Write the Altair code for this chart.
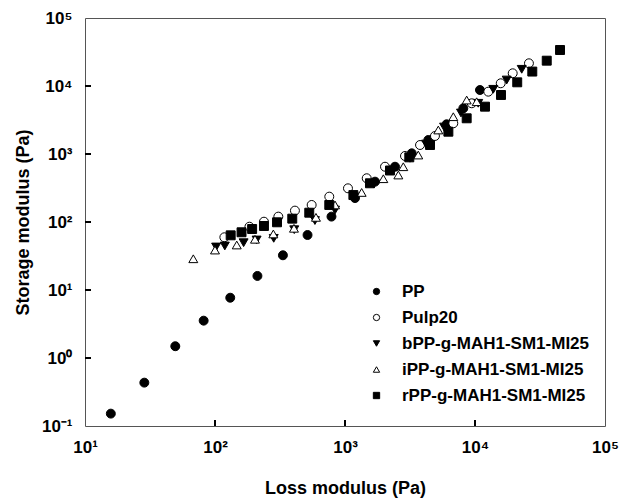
import altair as alt
import pandas as pd

# Loss modulus (x) and storage modulus (y), Pa
pp_x = [15.8, 28.6, 49.5, 81.8, 131, 212, 333, 515, 787, 1194, 1702, 2425, 3260, 4375, 6050, 8130, 10920]
pp_y = [0.152, 0.434, 1.49, 3.54, 7.7, 16.1, 32.4, 64.4, 120, 225, 392, 650, 1023, 1607, 2735, 4700, 8730]

pulp_x = [118, 184, 238, 307, 412, 554, 757, 1054, 1469, 2031, 2894, 3777, 4920, 6810, 9440, 12650, 15770, 19500, 26000]
pulp_y = [59.6, 85.3, 101, 120, 147, 178, 236, 313, 440, 650, 935, 1356, 1840, 2826, 5570, 8250, 10960, 15380, 21570]

b_x = [102, 119, 166, 209, 283, 407, 587, 838, 1216, 1671, 2258, 3162, 4200, 5780, 7800, 10590, 13830, 17540, 22880]
b_y = [42.9, 44.4, 49.6, 54.4, 57.5, 77, 105, 150, 233, 362, 562, 865, 1403, 2495, 4010, 5570, 8940, 12250, 17600]

i_x = [68.1, 100, 147, 203, 281, 405, 598, 838, 1343, 1972, 2572, 2808, 3660, 5220, 6810, 8630, 10300]
i_y = [28.8, 38.7, 45.9, 55.7, 66.7, 80.8, 117, 178, 272, 433, 491, 650, 966, 2254, 3535, 6220, 5870]

r_x = [132, 160, 193, 238, 300, 393, 531, 757, 1160, 1556, 2218, 3123, 4510, 6240, 8630, 11940, 15850, 21130, 27590, 35630, 45100]
r_y = [63.7, 70.6, 78.9, 87.4, 99, 112, 137, 178, 249, 371, 572, 893, 1356, 2127, 3350, 4966, 7380, 11330, 16300, 23570, 33840]

series = ["PP", "Pulp20", "bPP-g-MAH1-SM1-MI25", "iPP-g-MAH1-SM1-MI25", "rPP-g-MAH1-SM1-MI25"]
shapes = ["circle", "circle", "triangle-down", "triangle-up", "square"]
fills = ["black", "white", "black", "white", "black"]
strokes = ["black", "black", "black", "black", "black"]

x_ticks = [100, 1000, 10000]
y_ticks = [1, 10, 100, 1000, 10000]

rows = []
for name, xs, ys in zip(series, [pp_x, pulp_x, b_x, i_x, r_x], [pp_y, pulp_y, b_y, i_y, r_y]):
    for a, b in zip(xs, ys):
        rows.append({"x": a, "y": b, "series": name})
df = pd.DataFrame(rows)

FONT = "Liberation Sans"
xscale = alt.Scale(type="log", domain=[10, 100000], nice=False)
yscale = alt.Scale(type="log", domain=[0.1, 100000], nice=False)
label_expr = "'10' + ['⁻¹','⁰','¹','²','³','⁴','⁵'][round(log(datum.value)/LN10)+1]"

xaxis = alt.Axis(values=[10, 100, 1000, 10000, 100000], labelExpr=label_expr, grid=False, ticks=False,
                 domain=False, labelFont=FONT, labelFontSize=17, labelFontWeight="bold", labelColor="black",
                 labelPadding=13, titleFont=FONT, titleFontSize=18, titleFontWeight="bold", titleColor="black",
                 titlePadding=24, labelFlush=False)
yaxis = alt.Axis(values=[0.1, 1, 10, 100, 1000, 10000, 100000], labelExpr=label_expr, grid=False, ticks=False,
                 domain=False, labelFont=FONT, labelFontSize=17, labelFontWeight="bold", labelColor="black",
                 labelPadding=13, titleFont=FONT, titleFontSize=18, titleFontWeight="bold", titleColor="black",
                 titlePadding=9, labelFlush=False)

legend = alt.Legend(orient="none", legendX=283, legendY=265, labelFont=FONT, labelFontSize=17,
                    labelFontWeight="bold", labelColor="black", symbolSize=40, labelLimit=400,
                    labelOffset=17, rowPadding=8, symbolStrokeWidth=1)

points = alt.Chart(df).mark_point(filled=True, strokeWidth=1, opacity=1, size=80).encode(
    x=alt.X("x:Q", title="Loss modulus (Pa)", scale=xscale, axis=xaxis),
    y=alt.Y("y:Q", title="Storage modulus (Pa)", scale=yscale, axis=yaxis),
    shape=alt.Shape("series:N", scale=alt.Scale(domain=series, range=shapes), title=None, legend=legend),
    fill=alt.Fill("series:N", scale=alt.Scale(domain=series, range=fills), title=None, legend=legend),
    stroke=alt.Stroke("series:N", scale=alt.Scale(domain=series, range=strokes), title=None, legend=legend),
)

xt = alt.Chart(pd.DataFrame({"x": x_ticks})).mark_rule(color="black", strokeWidth=2).encode(
    x=alt.X("x:Q", title="Loss modulus (Pa)", scale=xscale),
    y=alt.value(408), y2=alt.value(402),
)
yt = alt.Chart(pd.DataFrame({"y": y_ticks})).mark_rule(color="black", strokeWidth=2).encode(
    y=alt.Y("y:Q", title="Storage modulus (Pa)", scale=yscale),
    x=alt.value(0), x2=alt.value(6),
)

chart = alt.layer(points, xt, yt).properties(
    width=520, height=408,
    padding={"left": 77, "top": 10, "right": 19, "bottom": 73},
    autosize=alt.AutoSizeParams(type="none"),
    background="white",
).configure_view(stroke="#555555", strokeWidth=1)

chart.save("out.html", embed_options={"renderer": "svg", "actions": False})
